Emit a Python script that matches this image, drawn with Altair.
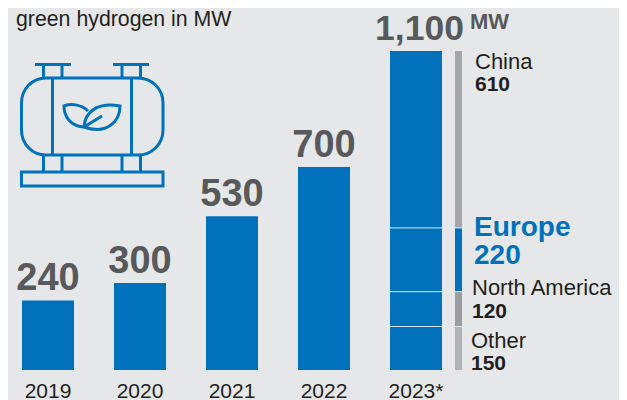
import altair as alt
import pandas as pd

years = ["2019", "2020", "2021", "2022", "2023*"]
totals = [240, 300, 530, 700, 1100]
total_labels = ["240", "300", "530", "700", "1,100"]
regions = ["Other", "North America", "Europe", "China"]
region_values = [150, 120, 220, 610]
region_colors = ["#B1B2B5", "#9B9C9F", "#0072BC", "#A5A6A9"]

BG = "#E6E7E9"
BLUE = "#0072BC"
GREY = "#58595B"
DARK = "#231F20"
FONT = "Liberation Sans"

df = pd.DataFrame({"year": years, "total": totals, "label": total_labels})
starts, s = [], 0
for v in region_values:
    starts.append(s)
    s += v
reg = pd.DataFrame({"region": regions, "value": region_values, "start": starts,
                    "end": [a + b for a, b in zip(starts, region_values)],
                    "color": region_colors})

x = alt.X("year:N", sort=years, title=None,
          scale=alt.Scale(domain=years, range=[14, 434], paddingInner=40 / 92, paddingOuter=0),
          axis=alt.Axis(domain=False, ticks=False, labelAngle=0, labelFontSize=21, labelFont=FONT,
                        labelColor=DARK, labelPadding=10, labelBaseline="top", grid=False))
y_scale = alt.Scale(domain=[0, 362 / 0.29], nice=False, zero=True)
y = alt.Y("total:Q", scale=y_scale, axis=None)

bars = alt.Chart(df).mark_bar(color=BLUE).encode(x=x, y=y)
tot = alt.Chart(df[df.year != "2023*"]).mark_text(
    font=FONT, fontWeight="bold", fontSize=38, color=GREY, baseline="alphabetic", dy=-10
).encode(x=x, y=y, text="label:N")
tot_last = alt.Chart(df[df.year == "2023*"]).mark_text(
    font=FONT, fontWeight="bold", fontSize=35.5, color=GREY, baseline="alphabetic", dy=-11, dx=3.5
).encode(x=x, y=y, text="label:N")
mw = alt.Chart(df[df.year == "2023*"]).mark_text(
    font=FONT, fontWeight="bold", fontSize=22, color=GREY, baseline="alphabetic", align="left",
    dx=54, dy=-22, text="MW"
).encode(x=x, y=y)

side = alt.Chart(reg).mark_bar().encode(
    x=alt.value(447), x2=alt.value(454),
    y=alt.Y("start:Q", scale=y_scale, axis=None), y2="end:Q",
    color=alt.Color("color:N", scale=None),
)
seps = alt.Chart(reg[reg.start > 0]).mark_rule(color="#FFFFFF", strokeWidth=1, opacity=0.85).encode(
    x=alt.value(382), x2=alt.value(434), y=alt.Y("start:Q", scale=y_scale, axis=None))
seps2 = alt.Chart(reg[reg.start > 0]).mark_rule(color=BG, strokeWidth=1).encode(
    x=alt.value(447), x2=alt.value(454), y=alt.Y("start:Q", scale=y_scale, axis=None))


def region_text(name, px, dy_name, dy_val, size, vsize, color):
    r = reg[reg.region == name]
    yy = alt.Y("end:Q", scale=y_scale, axis=None)
    a = alt.Chart(r).mark_text(font=FONT, fontSize=size, color=color, align="left", baseline="alphabetic",
                               dy=dy_name, fontWeight="bold" if name == "Europe" else "normal"
                               ).encode(x=alt.value(px), y=yy, text="region:N")
    b = alt.Chart(r).mark_text(font=FONT, fontSize=vsize, fontWeight="bold", color=color, align="left",
                               baseline="alphabetic", dy=dy_val
                               ).encode(x=alt.value(px), y=yy, text="value:Q")
    return a + b


labels = (region_text("China", 467, 17.5, 40, 22, 21, DARK)
          + region_text("Europe", 466, 8.5, 36.5, 28, 28, BLUE)
          + region_text("North America", 464, 3.5, 26, 22, 21, DARK)
          + region_text("Other", 463, 21, 43.5, 22, 21, DARK))

subtitle = alt.Chart(pd.DataFrame({"t": ["green hydrogen in MW"]})).mark_text(
    font=FONT, fontSize=21.3, color=DARK, align="left", baseline="alphabetic"
).encode(x=alt.value(8), y=alt.value(18), text="t:N")

# Tank icon, outline in picture coordinates
tank = ("M35 64.5H71M113 64.5H149M43.5 65V78M62 65V78M122 65V78M140.5 65V78"
        "M46 78H138C152 78 163 89 163 103V130C163 144 152 155 138 155H46C32 155 21.5 144 21.5 130V103C21.5 89 32 78 46 78Z"
        "M52.5 78V155M131.5 78V155M43.5 155V172M62 155V172M122 155V172M140.5 155V172"
        "M21.5 172H163V186H21.5Z"
        "M88 111C82 105 72 103 64 106C64 117 71 126 83 127"
        "M84 127C85 112 97 102 120 106C120 122 106 135 84 127ZM84 127L102 116")
icon = alt.Chart(pd.DataFrame({"a": [0]})).mark_point(
    shape=tank, size=4, filled=False, stroke=BLUE, strokeWidth=3, opacity=1,
).encode(x=alt.value(-8), y=alt.value(-8))

chart = alt.layer(bars, seps, side, seps2, tot, tot_last, mw, labels, subtitle, icon).resolve_scale(
    color="independent"
).properties(
    width=611, height=362, background=BG,
    padding={"left": 0, "top": 0, "right": 0, "bottom": 30},
    autosize=alt.AutoSizeParams(type="none"),
).configure_view(stroke=None)

chart.save("out.html", embed_options={"renderer": "svg", "actions": False})
